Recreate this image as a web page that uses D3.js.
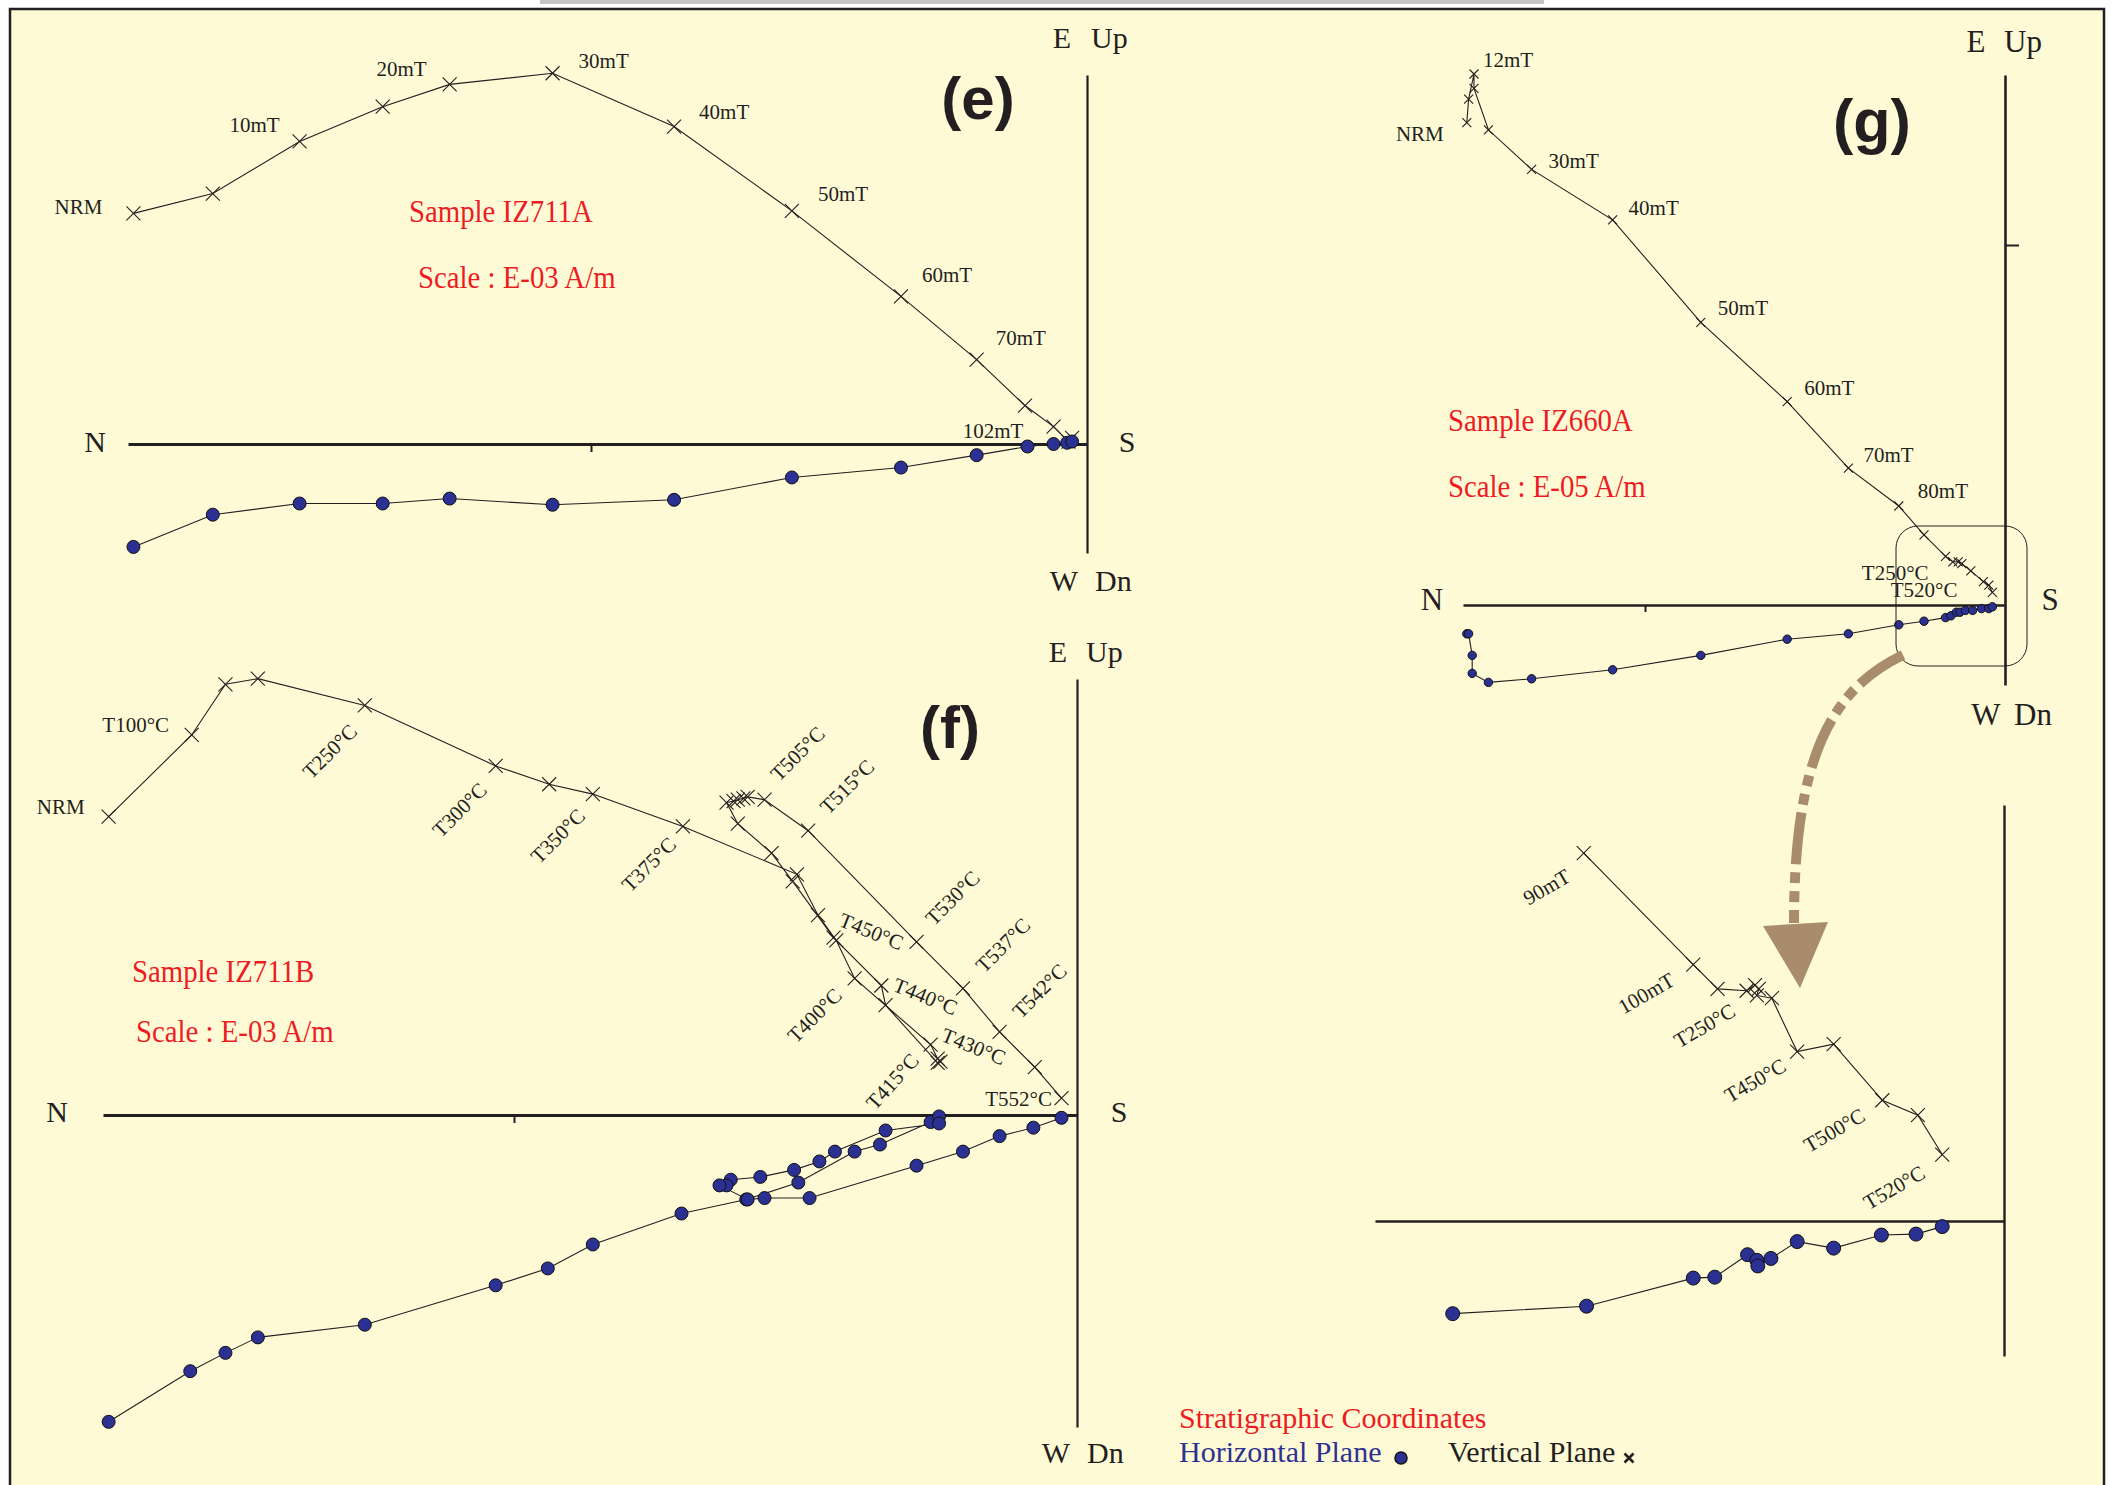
<!DOCTYPE html>
<html><head><meta charset="utf-8">
<script src="https://cdn.jsdelivr.net/npm/d3@7"></script>
<style>body{margin:0;background:#fff;overflow:hidden}</style>
</head><body>
<svg id="c" width="2114" height="1485"></svg>
<script>
// ---------------- DATA ----------------
// Panel (e) : Sample IZ711A, AF demagnetization (units: E-03 A/m, arbitrary scale)
const eVertNS = [-7.69,-7.05,-6.35,-5.68,-5.14,-4.31,-3.33,-2.38,-1.50,-0.89,-0.50,-0.27,-0.15,-0.12];
const eVertUp = [1.86,2.02,2.44,2.72,2.90,2.99,2.56,1.88,1.19,0.68,0.31,0.14,0.02,0.05];
const eHorNS  = [-7.69,-7.05,-6.35,-5.68,-5.14,-4.31,-3.33,-2.38,-1.50,-0.89,-0.48,-0.27,-0.16,-0.12];
const eHorEW  = [-0.83,-0.57,-0.48,-0.48,-0.44,-0.49,-0.45,-0.27,-0.19,-0.09,-0.02,0.00,0.01,0.02];
const eLabelText = ["NRM","10mT","20mT","30mT","40mT","50mT","60mT","70mT","102mT"];
const eLabelIdx  = [0,2,4,5,6,7,8,9,12];
const eTicks = [-4];

// Panel (f) : Sample IZ711B, thermal demagnetization (units: E-03 A/m)
const fVertNS = [-6.88,-6.29,-6.05,-5.82,-5.06,-4.13,-3.75,-3.44,-2.80,-1.99,-1.84,-1.71,-1.58,-1.04,-0.99,-0.97,-0.99,-1.36,-1.39,-1.73,-2.02,-2.17,-2.41,-2.49,-2.44,-2.41,-2.37,-2.34,-2.22,-1.91,-1.14,-0.81,-0.55,-0.30,-0.11];
const fVertUp = [2.12,2.70,3.06,3.10,2.91,2.48,2.35,2.28,2.05,1.71,1.42,1.24,0.97,0.50,0.40,0.38,0.37,0.78,0.92,1.26,1.66,1.86,2.07,2.22,2.23,2.24,2.25,2.26,2.24,2.02,1.23,0.90,0.59,0.34,0.12];
const fHorNS  = [-6.88,-6.30,-6.05,-5.82,-5.06,-4.13,-3.76,-3.44,-2.81,-2.35,-1.98,-1.58,-1.40,-1.04,-0.98,-0.98,-1.36,-1.72,-1.83,-2.01,-2.25,-2.46,-2.49,-2.54,-2.34,-2.22,-1.90,-1.14,-0.81,-0.55,-0.31,-0.11];
const fHorEW  = [-2.18,-1.82,-1.69,-1.58,-1.49,-1.21,-1.09,-0.92,-0.70,-0.60,-0.48,-0.26,-0.21,-0.05,-0.01,-0.06,-0.11,-0.26,-0.33,-0.39,-0.44,-0.46,-0.50,-0.50,-0.60,-0.59,-0.59,-0.36,-0.26,-0.15,-0.09,-0.02];
const fLabelText = ["NRM","T100°C","T250°C","T300°C","T350°C","T375°C","T400°C","T415°C","T430°C","T440°C","T450°C","T505°C","T515°C","T530°C","T537°C","T542°C","T552°C"];
const fLabelIdx  = [0,1,4,5,7,8,12,15,13,18,11,28,29,30,31,32,34];
const fTicks = [-4];

// Panel (g) : Sample IZ660A (units: E-05 A/m)
const gVertNS = [-2.99,-2.98,-2.95,-2.95,-2.87,-2.63,-2.18,-1.69,-1.21,-0.87,-0.59,-0.45,-0.33,-0.29,-0.26,-0.24,-0.19,-0.12,-0.09,-0.07];
const gVertUp = [2.68,2.81,2.95,2.87,2.64,2.42,2.14,1.57,1.13,0.76,0.55,0.39,0.27,0.24,0.24,0.23,0.19,0.13,0.11,0.07];
const gHorNS  = [-2.99,-2.98,-2.96,-2.96,-2.87,-2.63,-2.18,-1.69,-1.21,-0.87,-0.59,-0.45,-0.33,-0.30,-0.27,-0.25,-0.22,-0.18,-0.13,-0.09,-0.07];
const gHorEW  = [-0.16,-0.16,-0.28,-0.38,-0.43,-0.41,-0.36,-0.28,-0.19,-0.16,-0.11,-0.09,-0.07,-0.06,-0.04,-0.04,-0.03,-0.03,-0.02,-0.02,-0.01];
const gLabelText = ["NRM","12mT","30mT","40mT","50mT","60mT","70mT","80mT","T250°C","T520°C"];
const gLabelIdx  = [0,2,5,6,7,8,9,10,12,19];
const gTicksNS = [-2];
const gTicksUp = [2];

// Panel (g) enlarged inset (end of AF + thermal steps)
const giVertNS = [-0.449,-0.332,-0.306,-0.275,-0.266,-0.262,-0.264,-0.248,-0.221,-0.182,-0.130,-0.092,-0.066];
const giVertUp = [0.393,0.274,0.248,0.246,0.252,0.248,0.241,0.238,0.181,0.189,0.129,0.113,0.071];
const giHorNS  = [-0.589,-0.446,-0.332,-0.309,-0.274,-0.264,-0.263,-0.249,-0.221,-0.182,-0.131,-0.094,-0.066];
const giHorEW  = [-0.099,-0.091,-0.061,-0.060,-0.036,-0.042,-0.048,-0.040,-0.022,-0.029,-0.015,-0.014,-0.006];
const giLabelText = ["90mT","100mT","T250°C","T450°C","T500°C","T520°C"];
const giLabelIdx  = [0,1,3,8,10,12];

// ---------------- LAYOUT / STYLE ----------------
const CREAM = "#fffad6", INK = "#231f20", RED = "#ed1c24", BLUE = "#2e3192", DOT = "#2b3192", ARROW = "#a88c6c";
const SERIF = "'Liberation Serif','Times New Roman',serif";
const SANS = "'Liberation Sans',Arial,sans-serif";

const svg = d3.select("#c");
svg.append("rect").attr("width",2114).attr("height",1485).attr("fill","#ffffff");
svg.append("rect").attr("x",540).attr("y",0).attr("width",1004).attr("height",4).attr("fill","#c4c4c4");
svg.append("rect").attr("x",10).attr("y",9).attr("width",2094).attr("height",1500)
   .attr("fill",CREAM).attr("stroke",INK).attr("stroke-width",2.5);

function crossPath(cx, cy, s) {
  return `M${cx-s},${cy-s}L${cx+s},${cy+s}M${cx-s},${cy+s}L${cx+s},${cy-s}`;
}

function panel(o) {
  const g = svg.append("g");
  const x = d3.scaleLinear().domain([(o.axL - o.ox) / o.k, 0]).range([o.axL, o.ox]);
  const y = d3.scaleLinear().domain([(o.oy - o.axB) / o.k, (o.oy - o.axT) / o.k]).range([o.axB, o.axT]);

  const ax = g.append("g").attr("transform", `translate(0,${o.oy})`)
    .call(d3.axisBottom(x).tickValues(o.xTicks).tickSize(o.xTickLen).tickSizeOuter(0).tickFormat(""));
  ax.select(".domain").attr("stroke", INK).attr("stroke-width", o.hW);
  ax.selectAll(".tick line").attr("stroke", INK).attr("stroke-width", 2);

  const ay = g.append("g").attr("transform", `translate(${o.ox},0)`)
    .call(d3.axisRight(y).tickValues(o.yTicks).tickSize(o.yTickLen).tickSizeOuter(0).tickFormat(""));
  ay.select(".domain").attr("stroke", INK).attr("stroke-width", o.vW);
  ay.selectAll(".tick line").attr("stroke", INK).attr("stroke-width", 2);

  const vPts = d3.zip(o.vNS, o.vUp);
  const hPts = d3.zip(o.hNS, o.hEW);
  const line = d3.line().x(d => x(d[0])).y(d => y(d[1]));

  g.append("path").attr("d", line(hPts)).attr("fill", "none").attr("stroke", INK).attr("stroke-width", 1.1);
  g.append("path").attr("d", line(vPts)).attr("fill", "none").attr("stroke", INK).attr("stroke-width", 1.1);

  g.append("g").selectAll("path").data(vPts).join("path")
    .attr("d", d => crossPath(x(d[0]), y(d[1]), o.cs))
    .attr("stroke", INK).attr("stroke-width", 1.1).attr("fill", "none");
  g.append("g").selectAll("circle").data(hPts).join("circle")
    .attr("cx", d => x(d[0])).attr("cy", d => y(d[1])).attr("r", o.r)
    .attr("fill", DOT).attr("stroke", "#111").attr("stroke-width", 1);

  if (o.labels) {
    o.labels.text.forEach((t, i) => {
      const p = vPts[o.labels.idx[i]];
      const L = o.labels.layout[i];
      const px = x(p[0]) + L[1], py = y(p[1]) + L[2];
      const rot = L[3] || 0;
      const te = g.append("text").text(t)
        .attr("font-family", SERIF).attr("font-size", o.labels.size).attr("fill", INK)
        .attr("text-anchor", L[0])
        .attr("transform", `translate(${px},${py}) rotate(${rot})`);
      if (L[0] === "middle") te.attr("dominant-baseline", "central");
    });
  }
  return {g, x, y};
}

function axisLetters(n, s, e, w, size) {
  const t = (txt, xx, yy, anchor) => svg.append("text").text(txt).attr("x", xx).attr("y", yy)
    .attr("font-family", SERIF).attr("font-size", size).attr("fill", INK).attr("text-anchor", anchor);
  t("N", n[0], n[1], "middle");
  t("S", s[0], s[1], "middle");
  t("E", e[0], e[1], "middle"); t("Up", e[2], e[1], "start");
  t("W", w[0], w[1], "middle"); t("Dn", w[2], w[1], "start");
}
function panelTag(txt, xx, yy, size) {
  svg.append("text").text(txt).attr("x", xx).attr("y", yy).attr("text-anchor", "middle")
    .attr("font-family", SANS).attr("font-weight", "bold").attr("font-size", size).attr("fill", INK);
}
function redText(txt, xx, yy) {
  svg.append("text").text(txt).attr("transform", `translate(${xx},${yy}) scale(0.9,1)`)
    .attr("font-family", SERIF).attr("font-size", 32).attr("fill", RED);
}

// ---- panel (e)
panel({ox:1087, oy:444, k:124, axL:128, axT:75, axB:553, hW:3, vW:2.2,
  xTicks:eTicks, xTickLen:8, yTicks:[], yTickLen:0,
  vNS:eVertNS, vUp:eVertUp, hNS:eHorNS, hEW:eHorEW, cs:7, r:6.5,
  labels:{text:eLabelText, idx:eLabelIdx, size:21, layout:[
    ["end",-31,1],["end",-20,-9],["end",-23,-8],["start",26,-5],["start",25,-8],
    ["start",26,-10],["start",21,-14],["start",19,-15],["end",-45,-4]]}});
axisLetters([95,452],[1127,452],[1062,48,1091],[1064,591,1095],30);
panelTag("(e)", 978, 119, 60);
redText("Sample IZ711A", 409, 222);
redText("Scale : E-03 A/m", 418, 288);

// ---- panel (f)
panel({ox:1077, oy:1115, k:140.75, axL:103, axT:679, axB:1427, hW:3, vW:2.2,
  xTicks:fTicks, xTickLen:8, yTicks:[], yTickLen:0,
  vNS:fVertNS, vUp:fVertUp, hNS:fHorNS, hEW:fHorEW, cs:7, r:6.5,
  labels:{text:fLabelText, idx:fLabelIdx, size:21, layout:[
    ["middle",-48,-10,0],["middle",-56,-10,0],["middle",-35,46,-45],["middle",-36,44,-45],
    ["middle",-35,42,-45],["middle",-34,38,-45],["middle",-40,37,-45],["middle",-48,20,-48],
    ["middle",43,2,22],["middle",44,11,22],["middle",35,-9,22],["middle",33,-46,-45],
    ["middle",39,-44,-45],["middle",36,-44,-45],["middle",40,-43,-45],["middle",40,-41,-45],
    ["middle",-43,1,0]]}});
axisLetters([57,1122],[1119,1122],[1058,662,1086],[1056,1463,1087],30);
panelTag("(f)", 950, 748, 60);
redText("Sample IZ711B", 132, 982);
redText("Scale : E-03 A/m", 136, 1042);

// ---- panel (g)
panel({ox:2005, oy:605, k:180, axL:1463, axT:75, axB:685, hW:2.6, vW:2.6,
  xTicks:gTicksNS, xTickLen:7, yTicks:gTicksUp, yTickLen:14,
  vNS:gVertNS, vUp:gVertUp, hNS:gHorNS, hEW:gHorEW, cs:4.5, r:4.2,
  labels:{text:gLabelText, idx:gLabelIdx, size:21, layout:[
    ["end",-23,18],["start",9,-7],["start",17,-1],["start",16,-5],["start",17,-7],
    ["start",17,-7],["start",15,-6],["start",19,-8],["end",-17,24],["end",-35,5]]}});
axisLetters([1432,610],[2050,610],[1976,52,2004],[1986,725,2014],31);
panelTag("(g)", 1872, 142, 61);
redText("Sample IZ660A", 1448, 431);
redText("Scale : E-05 A/m", 1448, 497);

// magnifier box
svg.append("rect").attr("x",1896).attr("y",526).attr("width",131).attr("height",140).attr("rx",22)
   .attr("fill","none").attr("stroke",INK).attr("stroke-width",1);

// ---- inset of (g)
panel({ox:2004, oy:1221, k:936, axL:1375, axT:805, axB:1356, hW:2.4, vW:2.4,
  xTicks:[], xTickLen:0, yTicks:[], yTickLen:0,
  vNS:giVertNS, vUp:giVertUp, hNS:giHorNS, hEW:giHorEW, cs:7, r:7,
  labels:{text:giLabelText, idx:giLabelIdx, size:21, layout:[
    ["middle",-37,34,-30],["middle",-47,29,-30],["middle",-42,35,-30],
    ["middle",-42,29,-30],["middle",-48,30,-30],["middle",-48,33,-30]]}});

// arrow
svg.append("path").attr("d","M1903,655 C1830,690 1794,760 1794,923")
   .attr("fill","none").attr("stroke",ARROW).attr("stroke-width",10)
   .attr("stroke-dasharray","52,8,11,8,11,8");
svg.append("path").attr("d","M1763,926 L1828,922 L1800,988 Z").attr("fill",ARROW);

// legend
svg.append("text").text("Stratigraphic Coordinates").attr("x",1179).attr("y",1428)
   .attr("font-family",SERIF).attr("font-size",30).attr("fill",RED);
svg.append("text").text("Horizontal Plane").attr("x",1179).attr("y",1462)
   .attr("font-family",SERIF).attr("font-size",30).attr("fill",BLUE);
svg.append("circle").attr("cx",1401).attr("cy",1458).attr("r",6).attr("fill",DOT).attr("stroke","#111").attr("stroke-width",1.5);
svg.append("text").text("Vertical Plane").attr("x",1448).attr("y",1462)
   .attr("font-family",SERIF).attr("font-size",30).attr("fill",INK);
svg.append("path").attr("d",crossPath(1629,1458,4.5)).attr("stroke",INK).attr("stroke-width",2.6);
</script>
</body></html>
